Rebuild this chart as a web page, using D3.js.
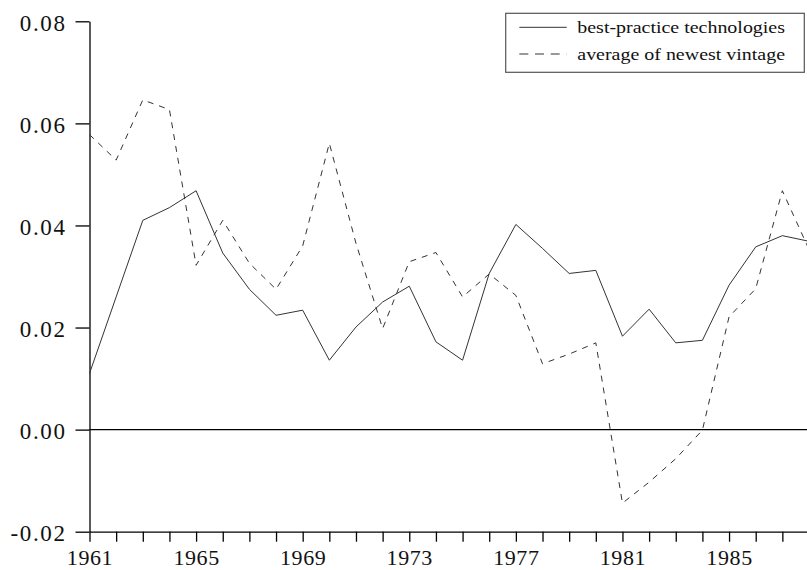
<!DOCTYPE html>
<html>
<head>
<meta charset="utf-8">
<script src="https://cdn.jsdelivr.net/npm/d3@7/dist/d3.min.js"></script>
<style>
  html, body { margin: 0; padding: 0; background: #fff; }
  svg { display: block; }
  text { font-family: "Liberation Serif", "Times New Roman", Times, serif; fill: #111; }
</style>
</head>
<body>
<svg id="chart" width="807" height="570"></svg>
<script>
// Annual growth rates, 1961-1988
const years = d3.range(1961, 1989);
const bestPractice = [
  0.0110, 0.0260, 0.0410, 0.0435, 0.0468, 0.0346, 0.0275, 0.0224, 0.0234, 0.0136,
  0.0201, 0.0250, 0.0281, 0.0172, 0.0136, 0.0306, 0.0402, 0.0355, 0.0306, 0.0312,
  0.0183, 0.0236, 0.0170, 0.0175, 0.0283, 0.0358, 0.0380, 0.0369
];
const newestVintage = [
  0.0578, 0.0528, 0.0646, 0.0627, 0.0322, 0.0410, 0.0326, 0.0275, 0.0360, 0.0561,
  0.0365, 0.0198, 0.0329, 0.0347, 0.0260, 0.0305, 0.0263, 0.0129, 0.0148, 0.0170,
  -0.0144, -0.0103, -0.0057, -0.0001, 0.0221, 0.0276, 0.0468, 0.0353
];
const yTickValues = [-0.02, 0.00, 0.02, 0.04, 0.06, 0.08];
const yTickLabels = ["-0.02", "0.00", "0.02", "0.04", "0.06", "0.08"];
const xLabelYears = [1961, 1965, 1969, 1973, 1977, 1981, 1985];
const seriesNames = ["best-practice technologies", "average of newest vintage"];

const svg = d3.select("#chart");

const x = d3.scaleLinear().domain([1961, 1988]).range([89.5, 809]);
const y = d3.scaleLinear().domain([-0.02, 0.08]).range([531.7, 21.3]);

// y axis
const yAxis = d3.axisLeft(y)
  .tickValues(yTickValues)
  .tickFormat((d, i) => yTickLabels[i])
  .tickSizeInner(14)
  .tickSizeOuter(0)
  .tickPadding(9);
const gy = svg.append("g").attr("transform", `translate(${x(1961)},0)`).call(yAxis);
gy.attr("font-family", null);
gy.select(".domain").attr("stroke", "#000").attr("stroke-width", 1.3);
gy.selectAll(".tick line").attr("stroke", "#000").attr("stroke-width", 1.3);
gy.selectAll(".tick text")
  .attr("font-size", 23)
  .attr("letter-spacing", 1.6)
  .attr("dy", null)
  .attr("y", 8.8)
  .attr("fill", "#111");

// x axis
const xAxis = d3.axisBottom(x)
  .tickValues(years.slice(0, 27))
  .tickFormat(d => xLabelYears.includes(d) ? String(d) : "")
  .tickSizeInner(10)
  .tickSizeOuter(0);
const gx = svg.append("g").attr("transform", `translate(0,${y(-0.02)})`).call(xAxis);
gx.attr("font-family", null);
gx.select(".domain").attr("stroke", "#000").attr("stroke-width", 1.3);
gx.selectAll(".tick line").attr("stroke", "#000").attr("stroke-width", 1.3);
gx.selectAll(".tick text")
  .attr("font-size", 22)
  .attr("letter-spacing", 0.6)
  .attr("dy", null)
  .attr("y", 33.5)
  .attr("fill", "#111");

// zero reference line
svg.append("line")
  .attr("x1", x(1961)).attr("x2", x(1988))
  .attr("y1", y(0)).attr("y2", y(0))
  .attr("stroke", "#000").attr("stroke-width", 1.3);

// series lines
const line = d3.line().x((d, i) => x(years[i])).y(d => y(d));

svg.append("path")
  .datum(bestPractice)
  .attr("d", line)
  .attr("fill", "none")
  .attr("stroke", "#333")
  .attr("stroke-width", 1);

svg.append("path")
  .datum(newestVintage)
  .attr("d", line)
  .attr("fill", "none")
  .attr("stroke", "#333")
  .attr("stroke-width", 1)
  .attr("stroke-dasharray", "6,6");

// legend
const legend = svg.append("g");
legend.append("rect")
  .attr("x", 505.7).attr("y", 13.3)
  .attr("width", 298.6).attr("height", 59)
  .attr("fill", "#fff")
  .attr("stroke", "#555").attr("stroke-width", 1.2);

const dashes = [null, "9,6.7"];
seriesNames.forEach((name, i) => {
  const ly = 27.3 + i * 26.7;
  legend.append("line")
    .attr("x1", 519.3).attr("x2", 566.7)
    .attr("y1", ly).attr("y2", ly)
    .attr("stroke", "#333").attr("stroke-width", 1)
    .attr("stroke-dasharray", dashes[i]);
  legend.append("text")
    .attr("x", 577.3).attr("y", ly + 5.8)
    .attr("font-size", 16.5)
    .attr("textLength", 207.7)
    .attr("lengthAdjust", "spacingAndGlyphs")
    .text(name);
});
</script>
</body>
</html>
